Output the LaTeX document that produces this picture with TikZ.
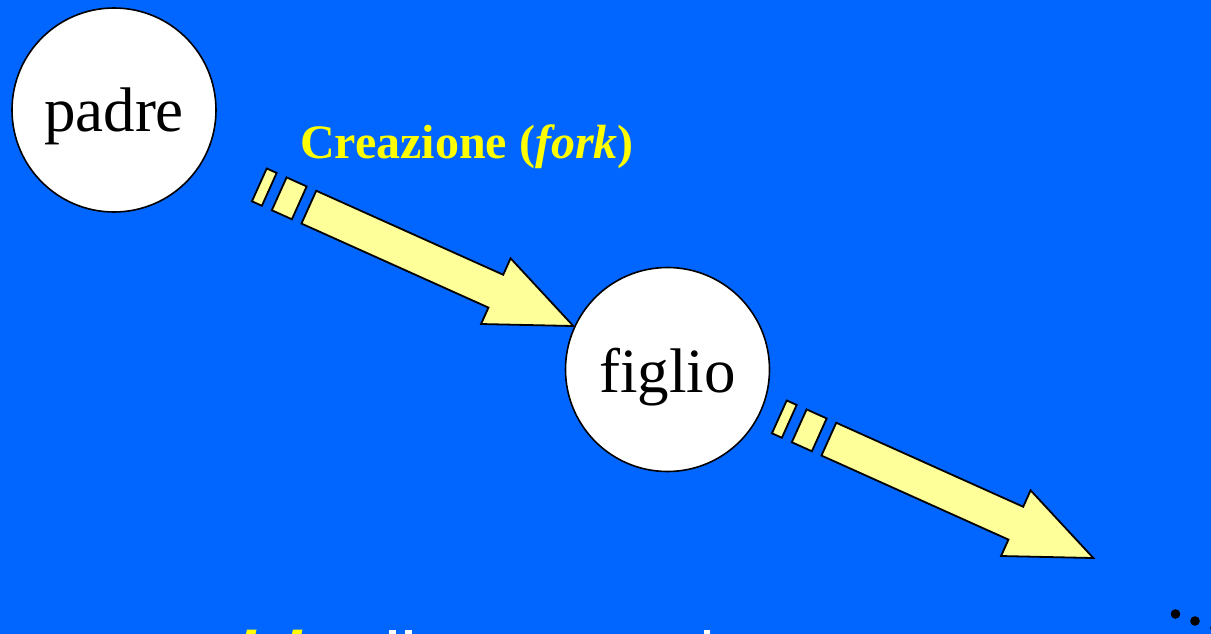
\documentclass[tikz,border=0pt]{standalone}
\usepackage{fontspec}
\setmainfont{Liberation Serif}
\definecolor{bgblue}{HTML}{0066FF}
\definecolor{arrowfill}{HTML}{FFFF99}
\definecolor{labelyellow}{HTML}{FFFF00}
\tikzset{
  proc/.style={circle, draw=black, fill=white, line width=1.6pt, minimum size=204pt, inner sep=0pt,
    font=\fontsize{63}{70}\selectfont},
  arrowpart/.style={fill=arrowfill, draw=black, line width=1.8pt, line join=miter},
  blockarrow/.pic={
    \path[arrowpart] (-54.3,-18) -- (-43.4,-18) -- (-43.4,18) -- (-54.3,18) -- cycle;
    \path[arrowpart] (-32.5,-18) -- (-10.5,-18) -- (-10.5,18) -- (-32.5,18) -- cycle;
    \path[arrowpart] (0,-18) -- (205,-18) -- (205,-36) -- (290,0) -- (205,36) -- (205,18) -- (0,18) -- cycle;
  }
}
\begin{document}
\begin{tikzpicture}[x=1pt,y=-1pt]
  \fill[bgblue] (0,0) rectangle (1211,634);
  \useasboundingbox (0,0) rectangle (1211,634);
  \begin{scope}
    \clip (0,0) rectangle (1211,634);
    % circles
    \node[proc] (padre) at (114,110) {\raisebox{-21.5pt}[0pt][0pt]{padre}};
    \node[proc] (figlio) at (667.5,369.5) {\raisebox{-23pt}[0pt][0pt]{figlio}};
    % label
    \node[anchor=base west, inner sep=0pt, text=labelyellow, font=\fontsize{48}{54}\selectfont\bfseries]
      (lbl) at (300,158) {Creazione (\textit{fork})};
    % arrows
    \coordinate (a1) at (308.85,207.15);
    \coordinate (a2) at (828.85,439.15);
    \pic[rotate=-24.2] at (a1) {blockarrow};
    \pic[rotate=-24.2] at (a2) {blockarrow};
    % ellipsis dots (cut off)
    \fill[black] (1175.5,614) circle[radius=4.8pt];
    \fill[black] (1195,621) circle[radius=4.8pt];
    \fill[black] (1215,628) circle[radius=4.8pt];
    % cut-off text fragments at the bottom edge
    \fill[labelyellow] (247,629.5) -- (256.5,629.5) -- (255,636) -- (245.5,636) -- cycle;
    \fill[labelyellow] (293,629.5) -- (302.5,629.5) -- (301,636) -- (291.5,636) -- cycle;
    \fill[white] (389,630) rectangle (395.5,636);
    \fill[white] (405,630) rectangle (411.5,636);
    \fill[white] (703.5,629.5) rectangle (710,636);
  \end{scope}
\end{tikzpicture}
\end{document}
